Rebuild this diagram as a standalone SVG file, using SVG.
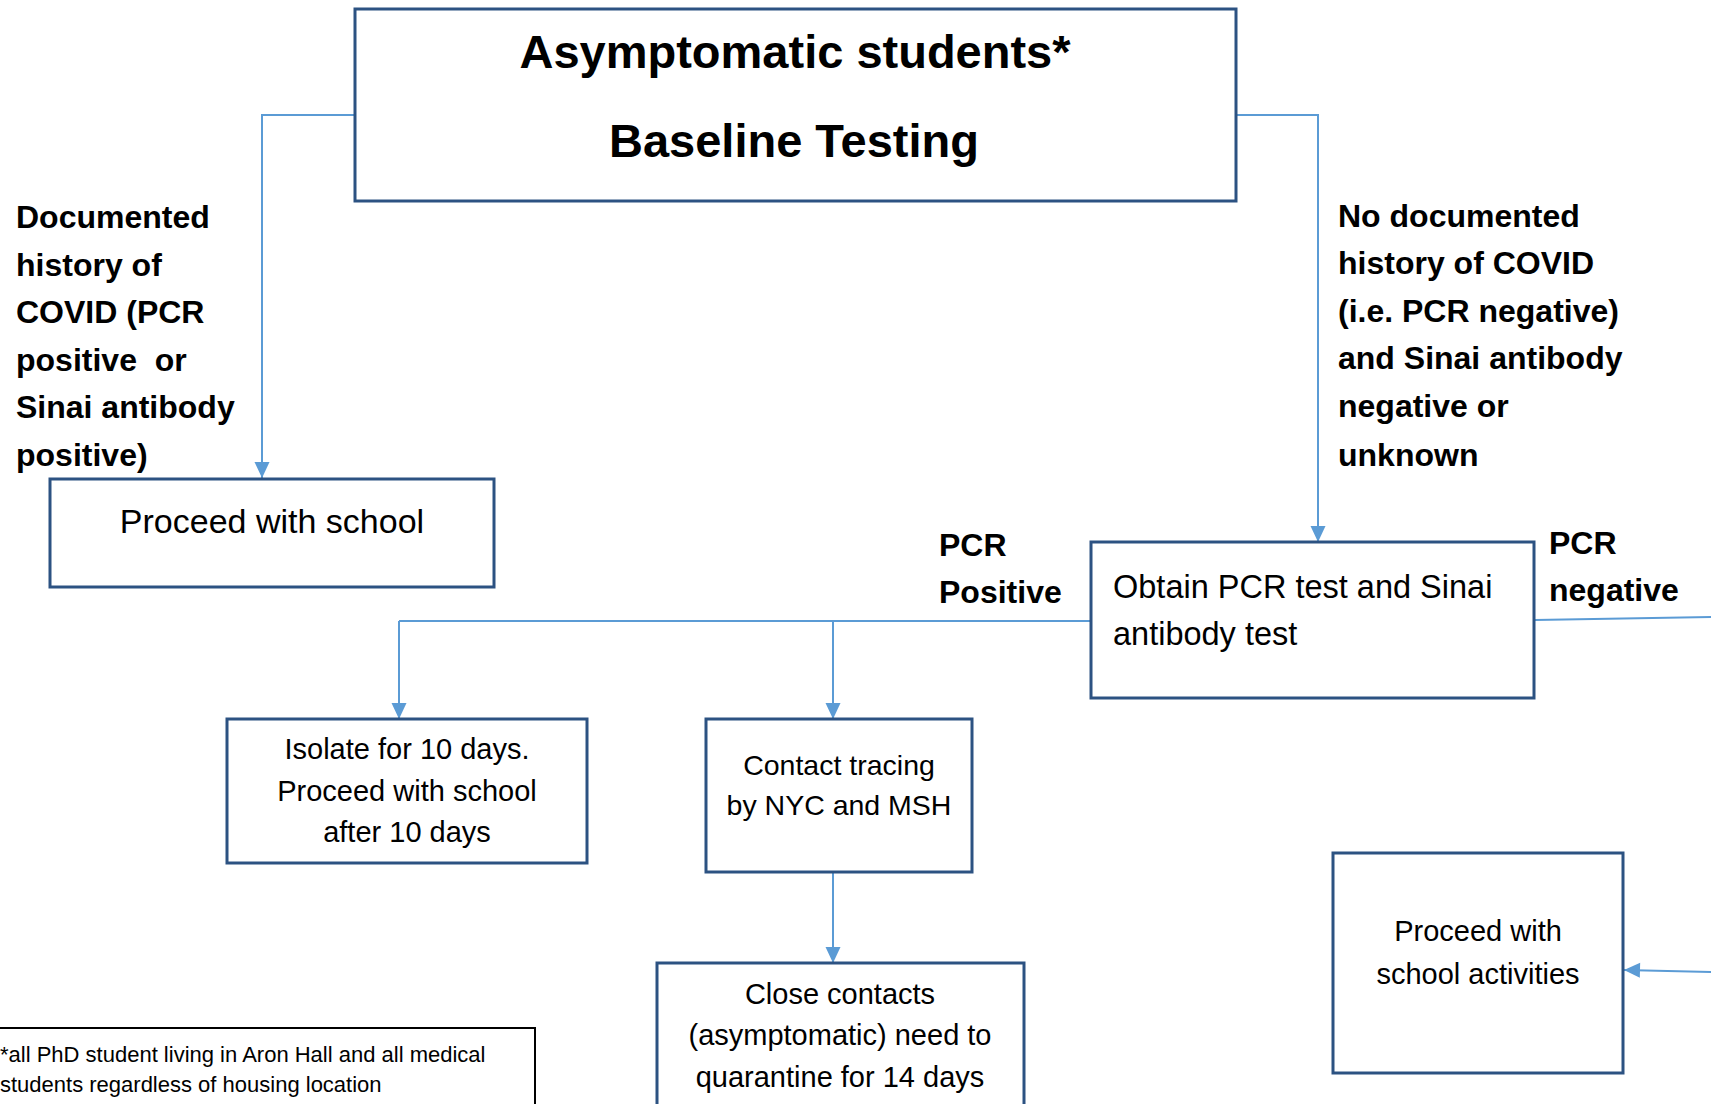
<svg xmlns="http://www.w3.org/2000/svg" width="1711" height="1104" viewBox="0 0 1711 1104">
<style>
.box{fill:#ffffff;stroke:#2c5282;stroke-width:3}
.note{fill:#ffffff;stroke:#000000;stroke-width:2}
.conn{fill:none;stroke:#5b9bd5;stroke-width:2}
.t{font-family:"Liberation Sans",Arial,sans-serif;fill:#000000}
.b{font-weight:bold;font-size:32px}
.title{font-weight:bold;font-size:47px}
.c{text-anchor:middle}
</style>
<defs>
<marker id="arr" markerUnits="userSpaceOnUse" markerWidth="18" markerHeight="18" viewBox="0 0 16 18" refX="16" refY="9" orient="auto">
<path d="M0,1.5 L16,9 L0,16.5 Z" fill="#5b9bd5"/>
</marker>
</defs>
<rect width="1711" height="1104" fill="#ffffff"/>
<g id="connectors">
<polyline class="conn" points="355,115 262,115 262,478" marker-end="url(#arr)"/>
<polyline class="conn" points="1236,115 1318,115 1318,542" marker-end="url(#arr)"/>
<line class="conn" x1="1091" y1="621" x2="399" y2="621"/>
<line class="conn" x1="399" y1="621" x2="399" y2="719" marker-end="url(#arr)"/>
<line class="conn" x1="833" y1="621" x2="833" y2="719" marker-end="url(#arr)"/>
<line class="conn" x1="833" y1="865" x2="833" y2="963" marker-end="url(#arr)"/>
<line class="conn" x1="1535" y1="620" x2="1711" y2="617"/>
<line class="conn" x1="1711" y1="972" x2="1624" y2="970" marker-end="url(#arr)"/>
</g>
<g id="top">
<rect class="box" x="355" y="9" width="881" height="192"/>
<text class="t title c" x="795" y="68">Asymptomatic students*</text>
<text class="t title c" x="794" y="157">Baseline Testing</text>
</g>
<g id="label-left">
<text class="t b" x="16" y="228">Documented</text>
<text class="t b" x="16" y="276">history of</text>
<text class="t b" x="16" y="323">COVID (PCR</text>
<text class="t b" x="16" y="371" xml:space="preserve">positive  or</text>
<text class="t b" x="16" y="418">Sinai antibody</text>
<text class="t b" x="16" y="466">positive)</text>
</g>
<g id="label-right">
<text class="t b" x="1338" y="227">No documented</text>
<text class="t b" x="1338" y="274">history of COVID</text>
<text class="t b" x="1338" y="322">(i.e. PCR negative)</text>
<text class="t b" x="1338" y="369">and Sinai antibody</text>
<text class="t b" x="1338" y="417">negative or</text>
<text class="t b" x="1338" y="466">unknown</text>
</g>
<g id="proceed-school">
<rect class="box" x="50" y="479" width="444" height="108"/>
<text class="t c" x="272" y="533" font-size="34">Proceed with school</text>
</g>
<g id="label-pcr-positive">
<text class="t b" x="939" y="556">PCR</text>
<text class="t b" x="939" y="603">Positive</text>
</g>
<g id="obtain">
<rect class="box" x="1091" y="542" width="443" height="156"/>
<text class="t" x="1113" y="598" font-size="32.5">Obtain PCR test and Sinai</text>
<text class="t" x="1113" y="645" font-size="32.5">antibody test</text>
</g>
<g id="label-pcr-negative">
<text class="t b" x="1549" y="554">PCR</text>
<text class="t b" x="1549" y="601">negative</text>
</g>
<g id="isolate">
<rect class="box" x="227" y="719" width="360" height="144"/>
<text class="t c" x="407" y="759" font-size="29">Isolate for 10 days.</text>
<text class="t c" x="407" y="801" font-size="29">Proceed with school</text>
<text class="t c" x="407" y="842" font-size="29">after 10 days</text>
</g>
<g id="contact">
<rect class="box" x="706" y="719" width="266" height="153"/>
<text class="t c" x="839" y="775" font-size="28.5">Contact tracing</text>
<text class="t c" x="839" y="815" font-size="28.5">by NYC and MSH</text>
</g>
<g id="close">
<rect class="box" x="657" y="963" width="367" height="160"/>
<text class="t c" x="840" y="1004" font-size="29">Close contacts</text>
<text class="t c" x="840" y="1045" font-size="29">(asymptomatic) need to</text>
<text class="t c" x="840" y="1087" font-size="29">quarantine for 14 days</text>
</g>
<g id="proceed-activities">
<rect class="box" x="1333" y="853" width="290" height="220"/>
<text class="t c" x="1478" y="941" font-size="29">Proceed with</text>
<text class="t c" x="1478" y="984" font-size="29">school activities</text>
</g>
<g id="footnote">
<rect class="note" x="-10" y="1028" width="545" height="100"/>
<text class="t" x="0" y="1062" font-size="22">*all PhD student living in Aron Hall and all medical</text>
<text class="t" x="0" y="1092" font-size="22">students regardless of housing location</text>
</g>
</svg>
